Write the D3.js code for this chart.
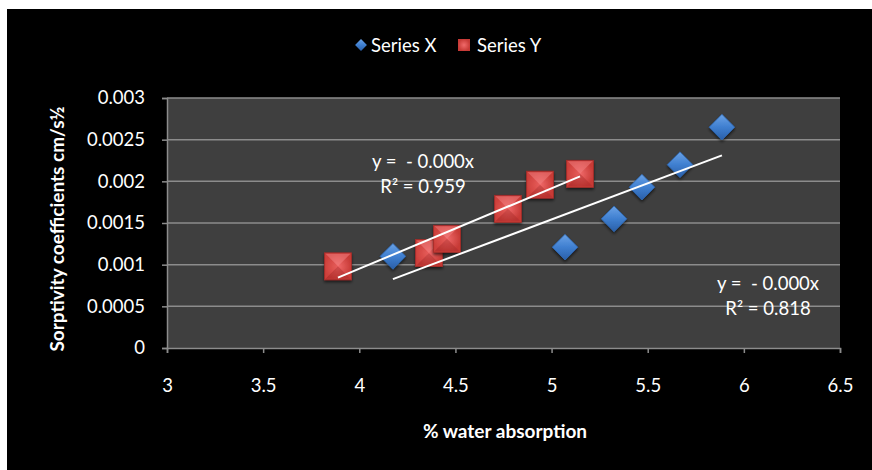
<!DOCTYPE html>
<html lang="en">
<head>
    <meta charset="UTF-8">
    <title>Sorptivity vs water absorption</title>
    <script src="https://d3js.org/d3.v7.min.js"></script>
    <style>
        body { margin: 0; background: #ffffff; }
        svg text { font-family: Lato, "Open Sans", sans-serif; fill: #ffffff; white-space: pre; }
    </style>
</head>
<body>
    <svg id="chart" width="872" height="470"></svg>

    <script>
        // values
        const seriesXAbsorption = [4.175, 5.07, 5.325, 5.47, 5.668, 5.886];
        const seriesXSorptivity = [0.00110, 0.00121, 0.00155, 0.00193, 0.00220, 0.00265];

        const seriesYAbsorption = [3.889, 4.362, 4.456, 4.773, 4.94, 5.148];
        const seriesYSorptivity = [0.00098, 0.00114, 0.00131, 0.00167, 0.00196, 0.00209];

        const xTicks = [3, 3.5, 4, 4.5, 5, 5.5, 6, 6.5];
        const yTicks = [0, 0.0005, 0.001, 0.0015, 0.002, 0.0025, 0.003];

        const seriesNames = ['Series X', 'Series Y'];
        const trendLabels = [
            ['y =  - 0.000x', 'R² = 0.818'],
            ['y =  - 0.000x', 'R² = 0.959']
        ];

        const svg = d3.select('#chart');

        // black chart area
        svg.append('rect')
            .attr('x', 7).attr('y', 9)
            .attr('width', 865).attr('height', 461)
            .attr('fill', '#000000');

        const plot = { left: 167, right: 840, top: 98, bottom: 348 };

        const x = d3.scaleLinear().domain([3, 6.5]).range([plot.left, plot.right]);
        const y = d3.scaleLinear().domain([0, 0.003]).range([plot.bottom, plot.top]);

        // gradients for the bevelled markers
        const defs = svg.append('defs');
        const blueGrad = defs.append('linearGradient')
            .attr('id', 'blueGrad').attr('x1', 0).attr('y1', 0).attr('x2', 0).attr('y2', 1);
        blueGrad.append('stop').attr('offset', '0%').attr('stop-color', '#6aa2e6');
        blueGrad.append('stop').attr('offset', '50%').attr('stop-color', '#3f7fd0');
        blueGrad.append('stop').attr('offset', '100%').attr('stop-color', '#2a5fa8');

        const redGrad = defs.append('radialGradient').attr('id', 'redGrad');
        redGrad.append('stop').attr('offset', '0%').attr('stop-color', '#f06a6a');
        redGrad.append('stop').attr('offset', '100%').attr('stop-color', '#c73a36');

        const shadow = defs.append('filter').attr('id', 'shadow')
            .attr('x', '-30%').attr('y', '-30%').attr('width', '160%').attr('height', '160%');
        shadow.append('feDropShadow')
            .attr('dx', 0).attr('dy', 2).attr('stdDeviation', 1.5)
            .attr('flood-color', '#000').attr('flood-opacity', 0.6);

        // plot background
        svg.append('rect')
            .attr('x', plot.left).attr('y', plot.top)
            .attr('width', plot.right - plot.left).attr('height', plot.bottom - plot.top)
            .attr('fill', '#3f3f3f');

        // horizontal gridlines
        svg.append('g')
            .selectAll('line')
            .data(yTicks.filter(d => d > 0))
            .enter().append('line')
            .attr('x1', plot.left).attr('x2', plot.right)
            .attr('y1', d => y(d)).attr('y2', d => y(d))
            .attr('stroke', '#8c8c8c')
            .attr('stroke-width', 1.5);

        // axes
        const xAxis = svg.append('g')
            .attr('transform', `translate(0,${plot.bottom})`)
            .call(d3.axisBottom(x).tickValues(xTicks).tickSize(5).tickPadding(26).tickFormat(d3.format('')));

        const yAxis = svg.append('g')
            .attr('transform', `translate(${plot.left},0)`)
            .call(d3.axisLeft(y).tickValues(yTicks).tickSize(5).tickPadding(17).tickFormat(d3.format('')));

        [xAxis, yAxis].forEach(ax => {
            ax.select('.domain').attr('stroke', '#8c8c8c').attr('stroke-width', 1.5);
            ax.selectAll('.tick line').attr('stroke', '#8c8c8c').attr('stroke-width', 1.5);
            ax.selectAll('.tick text')
                .attr('fill', '#ffffff')
                .style('font-size', '18.5px')
                .style('font-family', 'Lato, "Open Sans", sans-serif');
        });

        // axis titles
        svg.append('text')
            .attr('x', 505).attr('y', 438)
            .attr('text-anchor', 'middle')
            .style('font-size', '19px').style('font-weight', 'bold')
            .text('% water absorption');

        svg.append('text')
            .attr('transform', 'translate(64,229) rotate(-90)')
            .attr('text-anchor', 'middle')
            .style('font-size', '19px').style('font-weight', 'bold')
            .text('Sorptivity coefficients cm/s½');

        const seriesX = seriesXAbsorption.map((v, i) => ({ x: v, y: seriesXSorptivity[i] }));
        const seriesY = seriesYAbsorption.map((v, i) => ({ x: v, y: seriesYSorptivity[i] }));

        // linear trendlines through each series
        function trend(points) {
            const mx = d3.mean(points, d => d.x);
            const my = d3.mean(points, d => d.y);
            const slope = d3.sum(points, d => (d.x - mx) * (d.y - my)) / d3.sum(points, d => (d.x - mx) ** 2);
            const icept = my - slope * mx;
            const ext = d3.extent(points, d => d.x);
            return ext.map(v => ({ x: v, y: icept + slope * v }));
        }

        const lineGen = d3.line().x(d => x(d.x)).y(d => y(d.y));

        // markers
        const diamond = d3.symbol().type(d3.symbolDiamond2).size(420);
        svg.append('g')
            .selectAll('path')
            .data(seriesX)
            .enter().append('path')
            .attr('d', diamond)
            .attr('transform', d => `translate(${x(d.x)},${y(d.y)})`)
            .attr('fill', 'url(#blueGrad)')
            .attr('stroke', '#2d66b0')
            .attr('stroke-width', 0.8)
            .attr('filter', 'url(#shadow)');

        const sq = 27;
        const redGroups = svg.append('g')
            .selectAll('g')
            .data(seriesY)
            .enter().append('g')
            .attr('transform', d => `translate(${x(d.x)},${y(d.y)})`)
            .attr('filter', 'url(#shadow)');

        redGroups.append('rect')
            .attr('x', -sq / 2).attr('y', -sq / 2)
            .attr('width', sq).attr('height', sq)
            .attr('fill', 'url(#redGrad)')
            .attr('stroke', '#a52c2a')
            .attr('stroke-width', 0.8);

        // bevel facets
        const h = sq / 2 - 1;
        redGroups.append('path')
            .attr('d', `M${-h},${-h}L${h},${-h}L0,0Z`)
            .attr('fill', '#f28080').attr('opacity', 0.55);
        redGroups.append('path')
            .attr('d', `M${-h},${h}L${h},${h}L0,0Z`)
            .attr('fill', '#a82c2a').attr('opacity', 0.45);
        redGroups.append('path')
            .attr('d', `M${-h},${-h}L${-h},${h}L0,0Z`)
            .attr('fill', '#d94a47').attr('opacity', 0.4);

        // trendlines on top of markers
        [seriesX, seriesY].forEach(s => {
            svg.append('path')
                .attr('d', lineGen(trend(s)))
                .attr('fill', 'none')
                .attr('stroke', '#ffffff')
                .attr('stroke-width', 2);
        });

        // trendline labels
        const labelPos = [[768, 290], [423, 168]];
        trendLabels.forEach((lines, i) => {
            lines.forEach((t, j) => {
                svg.append('text')
                    .attr('x', labelPos[i][0])
                    .attr('y', labelPos[i][1] + j * 25)
                    .attr('text-anchor', 'middle')
                    .style('font-size', '18.5px')
                    .text(t);
            });
        });

        // legend
        const legend = svg.append('g').attr('transform', 'translate(0,45)');
        legend.append('path')
            .attr('d', d3.symbol().type(d3.symbolDiamond2).size(90))
            .attr('transform', 'translate(361,0)')
            .attr('fill', 'url(#blueGrad)');
        legend.append('text')
            .attr('x', 371).attr('y', 7)
            .style('font-size', '18.5px')
            .text(seriesNames[0]);
        legend.append('rect')
            .attr('x', 458).attr('y', -6)
            .attr('width', 12).attr('height', 12)
            .attr('fill', 'url(#redGrad)');
        legend.append('text')
            .attr('x', 477).attr('y', 7)
            .style('font-size', '18.5px')
            .text(seriesNames[1]);
    </script>
</body>
</html>
